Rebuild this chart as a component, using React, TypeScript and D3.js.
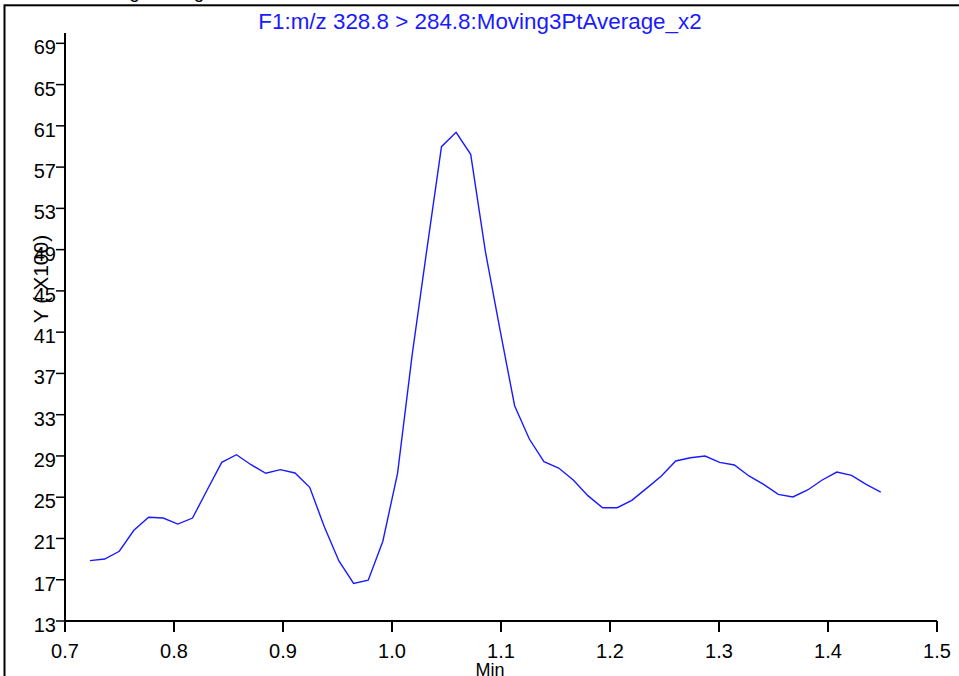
import React from "react";
import * as d3 from "d3";

const times = [
  0.7229, 0.7364, 0.7498, 0.7632, 0.7767, 0.7901, 0.8035, 0.817, 0.8304, 0.8438,
  0.8573, 0.8707, 0.8842, 0.8976, 0.911, 0.9245, 0.9379, 0.9513, 0.9648, 0.9782,
  0.9916, 1.0051, 1.0185, 1.0319, 1.0454, 1.0588, 1.0722, 1.0857, 1.0991, 1.1125,
  1.126, 1.1394, 1.1529, 1.1663, 1.1797, 1.1932, 1.2066, 1.22, 1.2335, 1.2469,
  1.2603, 1.2738, 1.2872, 1.3006, 1.3141, 1.3275, 1.3409, 1.3544, 1.3678, 1.3813,
  1.3947, 1.4081, 1.4216, 1.435, 1.4484,
];
const intensity = [
  18.85, 19.01, 19.76, 21.79, 23.05, 22.98, 22.4, 22.98, 25.7, 28.38,
  29.12, 28.15, 27.32, 27.67, 27.35, 25.96, 22.14, 18.82, 16.65, 16.95,
  20.73, 27.32, 38.79, 48.96, 58.98, 60.37, 58.24, 48.8, 41.21, 33.87,
  30.64, 28.44, 27.83, 26.67, 25.15, 23.98, 23.98, 24.7, 25.86, 27.03,
  28.51, 28.83, 28.99, 28.38, 28.12, 27.06, 26.25, 25.28, 25.02, 25.7,
  26.67, 27.44, 27.12, 26.25, 25.5,
];
const xTicks = [0.7, 0.8, 0.9, 1.0, 1.1, 1.2, 1.3, 1.4, 1.5];
const yTicks = [13, 17, 21, 25, 29, 33, 37, 41, 45, 49, 53, 57, 61, 65, 69];
const title = "F1:m/z 328.8 > 284.8:Moving3PtAverage_x2";
const xLabel = "Min";
const yLabel = "Y ( X100)";
const topText = "Smoothing Setting";

export default function App() {
  const W = 959;
  const H = 676;
  const x = d3.scaleLinear().domain([0.7, 1.5]).range([65, 937]);
  const y = d3.scaleLinear().domain([13, 70]).range([621, 33]);
  const pts: [number, number][] = times.map((t, i) => [t, intensity[i]]);
  const line = d3
    .line<[number, number]>()
    .x((d) => x(d[0]))
    .y((d) => y(d[1]));
  const font = "'Liberation Sans', Arial, sans-serif";
  return (
    <svg
      width={W}
      height={H}
      style={{ position: "absolute", left: 0, top: 0, background: "#fff" }}
      fontFamily={font}
    >
      <rect x={0} y={0} width={W} height={H} fill="#fff" />
      <text x={49} y={-2} fontSize={19} fill="#000">
        {topText}
      </text>
      <rect x={4.5} y={5.3} width={W + 20} height={H + 20} fill="none" stroke="#000" strokeWidth={2} />
      <text x={480} y={29} fontSize={22.4} fill="#1a1aff" textAnchor="middle">
        {title}
      </text>
      {/* axes */}
      <line x1={x(0.7)} x2={x(0.7)} y1={y(70)} y2={632} stroke="#000" strokeWidth={2} />
      <line x1={x(0.7)} x2={x(1.5)} y1={y(13)} y2={y(13)} stroke="#000" strokeWidth={2} />
      {yTicks.map((v) => (
        <g key={"y" + v}>
          <line x1={x(0.7) - 9} x2={x(0.7)} y1={y(v)} y2={y(v)} stroke="#000" strokeWidth={1.5} />
          <text x={x(0.7) - 9} y={y(v) + 11} fontSize={20} textAnchor="end" fill="#000">
            {v}
          </text>
        </g>
      ))}
      {xTicks.map((v) => (
        <g key={"x" + v}>
          <line x1={x(v)} x2={x(v)} y1={y(13)} y2={632} stroke="#000" strokeWidth={2} />
          <text x={x(v)} y={658} fontSize={20} textAnchor="middle" fill="#000">
            {v.toFixed(1)}
          </text>
        </g>
      ))}
      <text x={490} y={676} fontSize={18} textAnchor="middle" fill="#000">
        {xLabel}
      </text>
      <text
        transform={`translate(48,279) rotate(-90)`}
        fontSize={21}
        textAnchor="middle"
        fill="#000"
      >
        {yLabel}
      </text>
      <path d={line(pts) || ""} fill="none" stroke="#1a1aff" strokeWidth={1.4} />
    </svg>
  );
}
